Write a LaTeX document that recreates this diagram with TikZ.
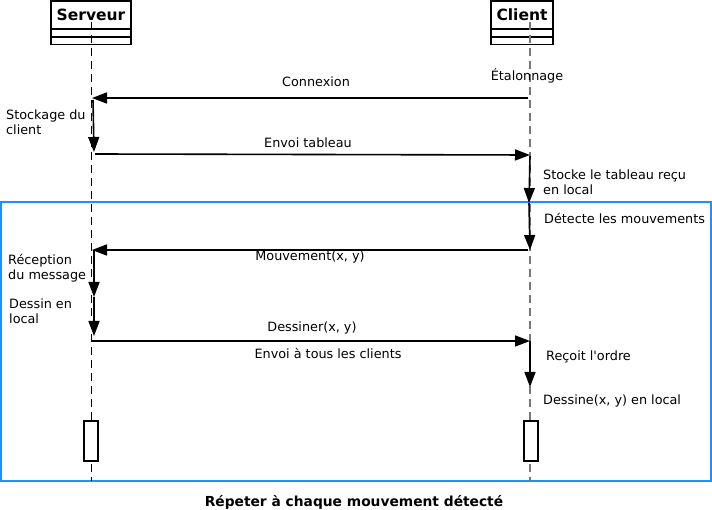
\documentclass[tikz,border=0pt]{standalone}
\usepackage{fontspec}
\setmainfont[Ligatures=TeXOff]{DejaVu Sans}
\usetikzlibrary{arrows.meta}
\definecolor{frameblue}{RGB}{30,144,255}
\definecolor{lifegray}{RGB}{120,120,120}
\begin{document}
\begin{tikzpicture}[x=1pt,y=-1pt,
  msg/.style={-{Triangle[length=15pt,width=11pt]}, line width=1.6pt},
  lbl/.style={font=\fontsize{12.8}{15}\selectfont, inner sep=0pt, align=left},
  clbl/.style={font=\fontsize{12.8}{15}\selectfont, inner sep=0pt, align=center},
  actbox/.style={draw, line width=1.5pt, fill=white},
  srvline/.style={line width=1pt, dash pattern=on 8pt off 5pt},
  cliline/.style={line width=1.5pt, lifegray, dash pattern=on 8pt off 5pt}]
\useasboundingbox (0,0) rectangle (712,510);
% blue loop frame
\draw[frameblue, line width=2pt] (1,202) rectangle (711,481);
% actor boxes
\draw[line width=1.5pt] (51,1) rectangle (131,44.5);
\draw[line width=1.5pt] (51,29) -- (131,29) (51,37) -- (131,37);
\node[font=\fontsize{15.5}{17}\selectfont\bfseries, inner sep=0pt] (srv) at (91,14.5) {Serveur};
\draw[line width=1.5pt] (491,1) rectangle (553,44.5);
\draw[line width=1.5pt] (491,29) -- (553,29) (491,37) -- (553,37);
\node[font=\fontsize{15.5}{17}\selectfont\bfseries, inner sep=0pt] (cli) at (522,14.5) {Client};
% lifelines
\coordinate (stop) at (91,22);
\coordinate (sbot) at (91,481);
\coordinate (ctop) at (530,22);
\coordinate (cbot) at (530,481);
\draw[srvline] (stop) -- (sbot);
\draw[cliline] (ctop) -- (cbot);
% activation boxes
\node[actbox, minimum width=14pt, minimum height=40pt, inner sep=0pt] (sact) at (91,441) {};
\node[actbox, minimum width=14pt, minimum height=40pt, inner sep=0pt] (cact) at (531,441) {};
% message points
\coordinate (c1) at (528,98);
\coordinate (s1) at (92,98);
\coordinate (s1b) at (93,100);
\coordinate (s2) at (94,152);
\coordinate (s2b) at (95,154);
\coordinate (c2) at (530,155);
\coordinate (c2b) at (530,156);
\coordinate (c3) at (529,203);
\coordinate (c4) at (530,250);
\coordinate (c4b) at (528,250);
\coordinate (s4) at (92,250);
\coordinate (s4b) at (94,250);
\coordinate (s5) at (94,297);
\coordinate (s6) at (94,336);
\coordinate (s7) at (91,341);
\coordinate (c7) at (530,341);
\coordinate (c8) at (530,387);
% messages
\draw[msg] (c1) -- (s1);
\draw[msg] (s1b) -- (s2);
\draw[msg] (s2b) -- (c2);
\draw[msg] (c2b) -- (c3);
\draw[msg] (c3) -- (c4);
\draw[msg] (c4b) -- (s4);
\draw[msg] (s4b) -- (s5);
\draw[msg] (s5) -- (s6);
\draw[msg] (s7) -- (c7);
\draw[msg] (c7) -- (c8);
% labels
\node[clbl] (lconn) at (316,82) {Connexion};
\node[clbl] (letal) at (527,76) {Étalonnage};
\node[lbl, anchor=west] (lstock) at (6,122.5) {Stockage du\\client};
\node[clbl] (lenvoi) at (308,142.5) {Envoi tableau};
\node[lbl, anchor=west] (lstocke) at (543,182) {Stocke le tableau reçu\\en local};
\node[lbl, anchor=west] (ldet) at (544,218) {Détecte les mouvements};
\node[clbl] (lmouv) at (310,256.5) {Mouvement(x, y)};
\node[lbl, anchor=west] (lrecep) at (8,268.5) {Réception\\du message};
\node[lbl, anchor=west] (ldessin) at (9,311.5) {Dessin en\\local};
\node[clbl] (ldessiner) at (312,327.5) {Dessiner(x, y)};
\node[clbl] (lenvoitous) at (328,353) {Envoi à tous les clients};
\node[lbl, anchor=west] (lrecoit) at (546,357) {Reçoit l'ordre};
\node[lbl, anchor=west] (ldessine) at (543,400.5) {Dessine(x, y) en local};
\node[font=\fontsize{13.8}{15}\selectfont\bfseries, inner sep=0pt] (lfoot) at (354,502) {Répeter à chaque mouvement détecté};
\end{tikzpicture}
\end{document}
